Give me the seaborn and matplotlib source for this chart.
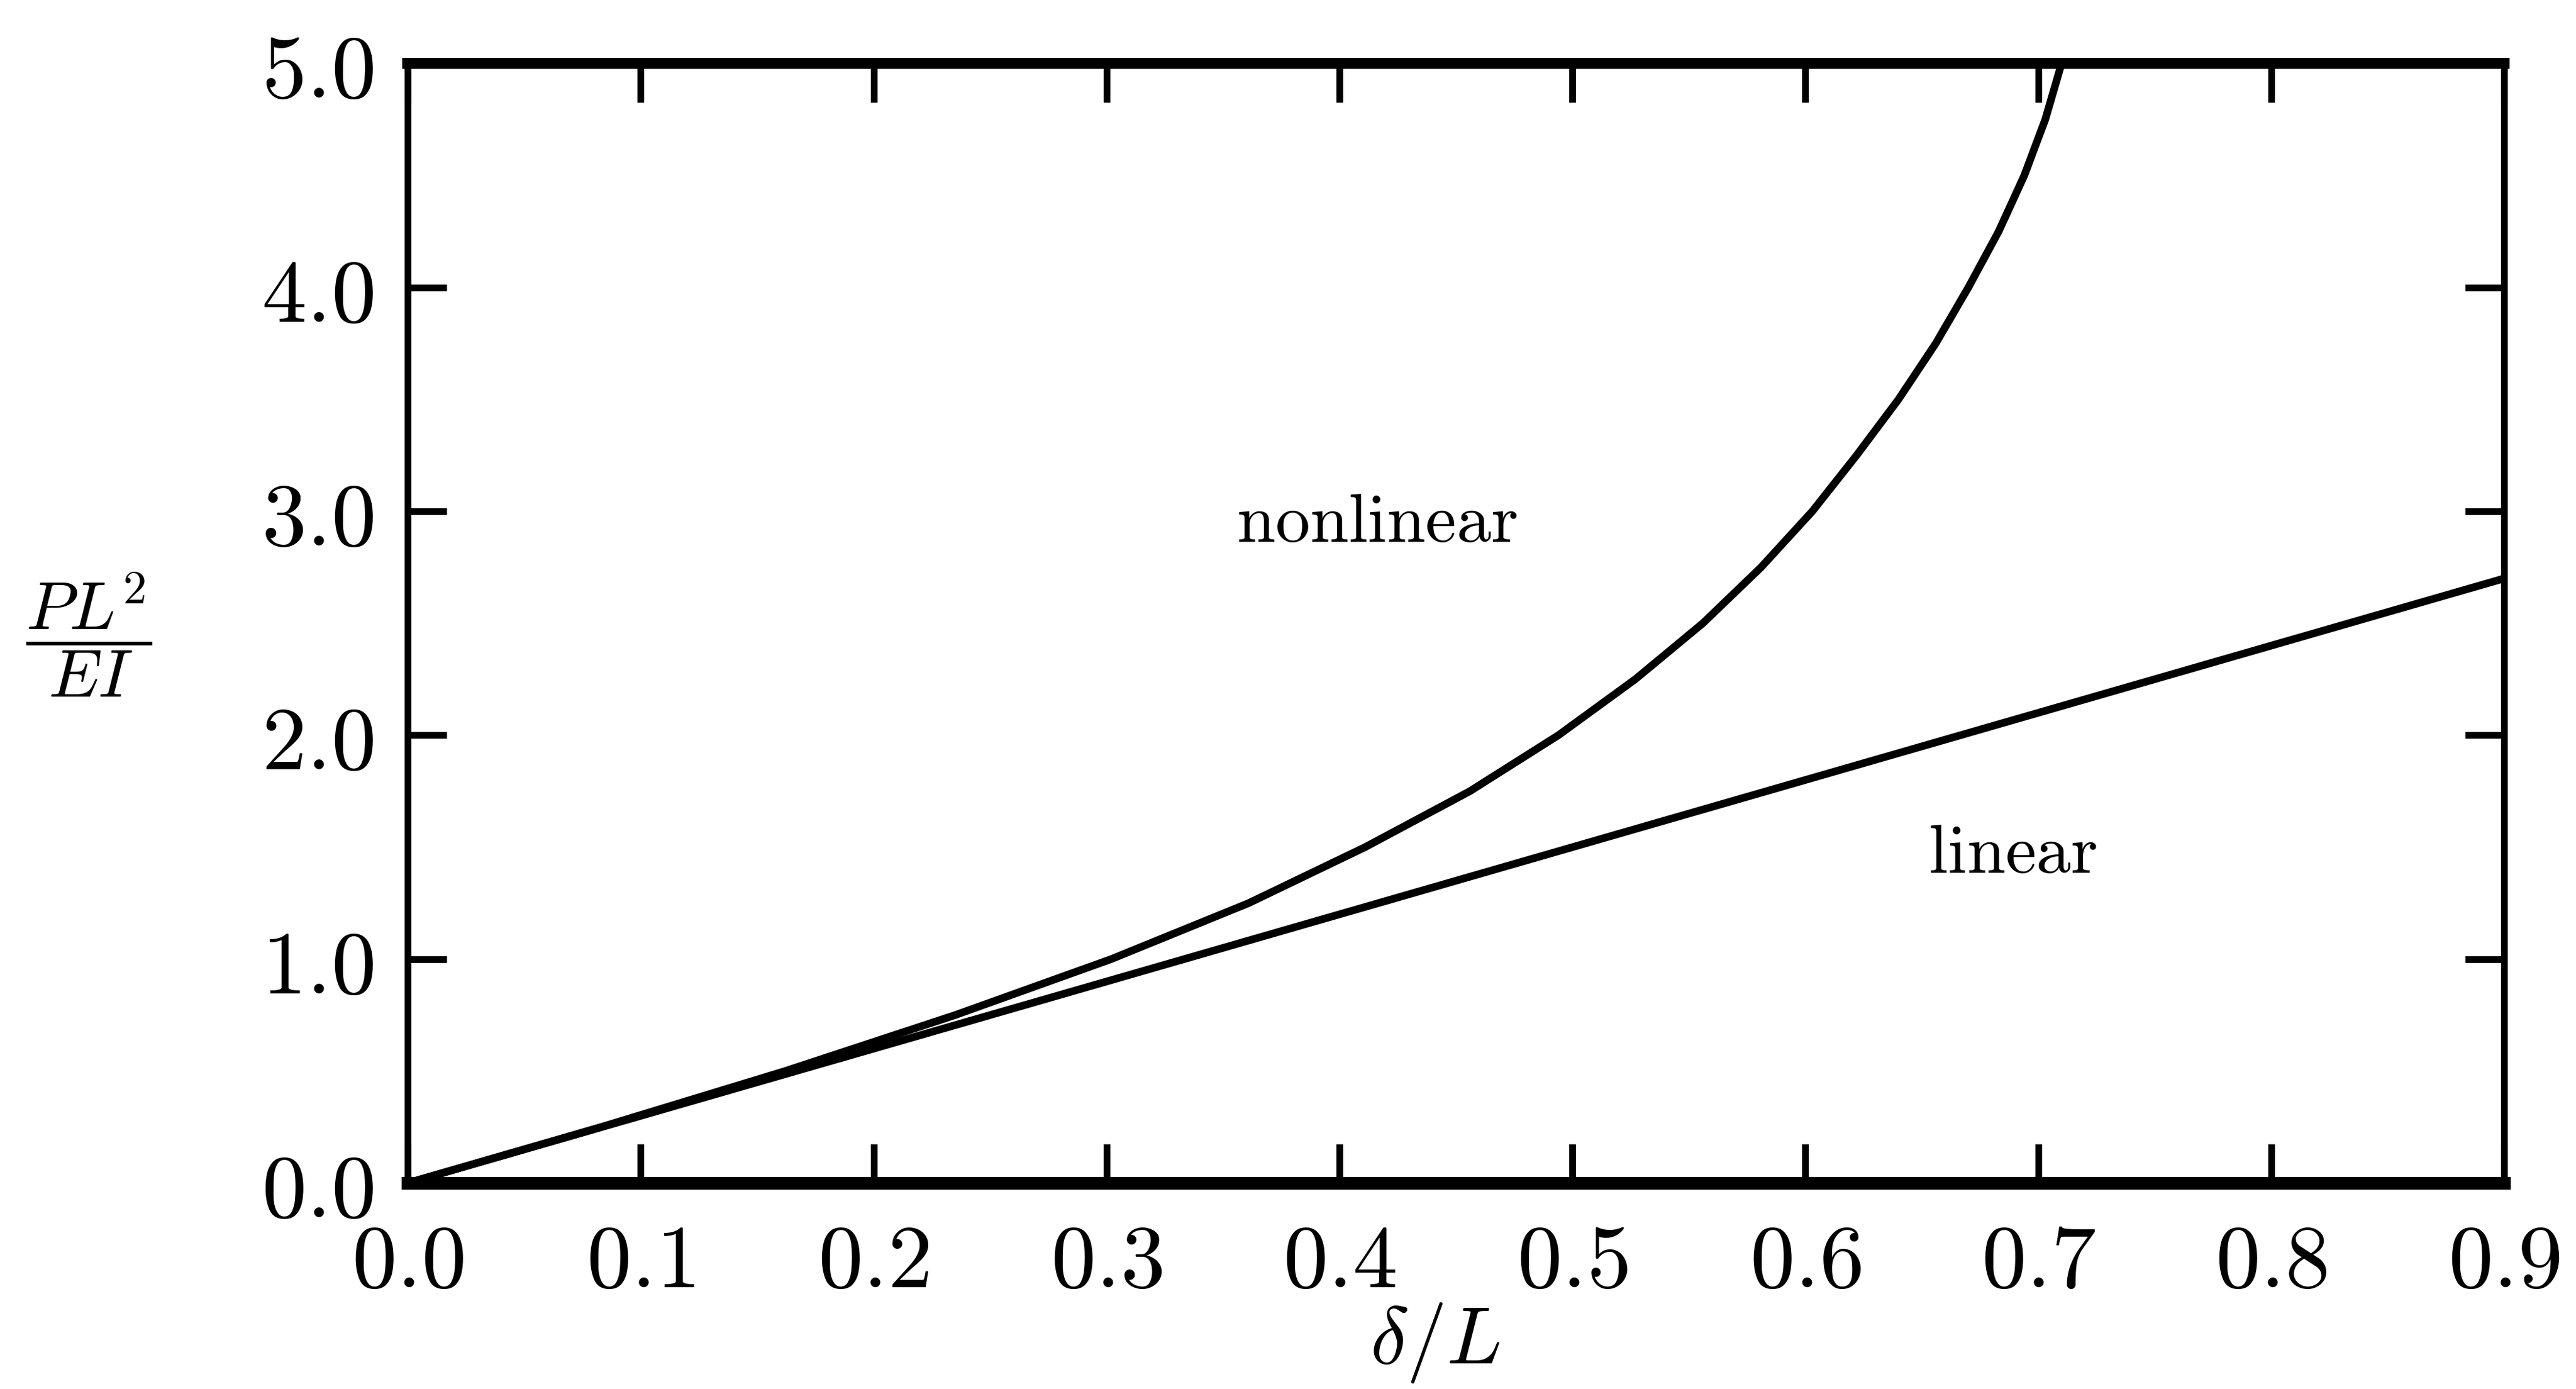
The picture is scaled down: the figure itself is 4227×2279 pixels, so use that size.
import matplotlib
matplotlib.use("Agg")
import matplotlib.pyplot as plt
import seaborn as sns
import pandas as pd
from matplotlib.ticker import FixedLocator, FuncFormatter

# ---- data ----
nonlinear_x = [0.0, 0.083, 0.162, 0.235, 0.302, 0.361, 0.411, 0.456, 0.494,
               0.527, 0.556, 0.581, 0.603, 0.622, 0.640, 0.656, 0.670, 0.683,
               0.694, 0.703, 0.710]
nonlinear_y = [0.0, 0.25, 0.50, 0.75, 1.00, 1.25, 1.50, 1.75, 2.00,
               2.25, 2.50, 2.75, 3.00, 3.25, 3.50, 3.75, 4.00, 4.25,
               4.50, 4.75, 5.00]
linear_x = [0.0, 0.9]
linear_y = [0.0, 2.7]
x_ticks = [0.0, 0.1, 0.2, 0.3, 0.4, 0.5, 0.6, 0.7, 0.8, 0.9]
y_ticks = [0.0, 1.0, 2.0, 3.0, 4.0, 5.0]
annotations = [("nonlinear", 0.416, 2.95), ("linear", 0.689, 1.47)]

sns.set_theme(style="ticks")
plt.rcParams["mathtext.fontset"] = "cm"
plt.rcParams["font.family"] = ["DejaVu Serif"]

df = pd.concat([
    pd.DataFrame({"x": nonlinear_x, "y": nonlinear_y, "curve": "nonlinear"}),
    pd.DataFrame({"x": linear_x, "y": linear_y, "curve": "linear"}),
])

fig = plt.figure(figsize=(42.27, 22.79), dpi=100)
ax = fig.add_axes([0.1583, 0.1483, 0.9721 - 0.1583, 0.9543 - 0.1483])

sns.lineplot(data=df, x="x", y="y", hue="curve",
             palette={"nonlinear": "black", "linear": "black"},
             linewidth=9, legend=False, ax=ax, sort=False, estimator=None)
for ln in ax.get_lines():
    ln.set_solid_joinstyle("round")
    ln.set_solid_capstyle("round")

ax.set_xlim(0, 0.9)
ax.set_ylim(0, 5.0)

ax.xaxis.set_major_locator(FixedLocator(x_ticks))
ax.yaxis.set_major_locator(FixedLocator(y_ticks))
ax.xaxis.set_major_formatter(FuncFormatter(lambda v, p: r"$%.1f$" % v))
ax.yaxis.set_major_formatter(FuncFormatter(lambda v, p: r"$%.1f$" % v))

ax.tick_params(axis="both", which="major", direction="in", length=46, width=8,
               top=True, right=True, labelsize=106, color="black", labelcolor="black")
ax.tick_params(axis="x", pad=42)
ax.tick_params(axis="y", pad=40)

for side, lw in {"left": 8, "right": 8, "top": 13, "bottom": 15}.items():
    ax.spines[side].set_linewidth(lw)
    ax.spines[side].set_color("black")

ax.set_xlabel(r"$\delta/L$", fontsize=96, color="black")
ax.set_ylabel(r"$\dfrac{PL^2}{EI}$", fontsize=80, rotation=0, va="center",
              ha="center", color="black")
ax.yaxis.set_label_coords(-0.152, 0.49)
ax.xaxis.set_label_coords(0.49, -0.105)

for txt, x, y in annotations:
    ax.text(x, y, r"$\mathrm{%s}$" % txt, fontsize=82, ha="center", va="center",
            color="black")

fig.savefig("out.png", dpi=100, facecolor="white")
